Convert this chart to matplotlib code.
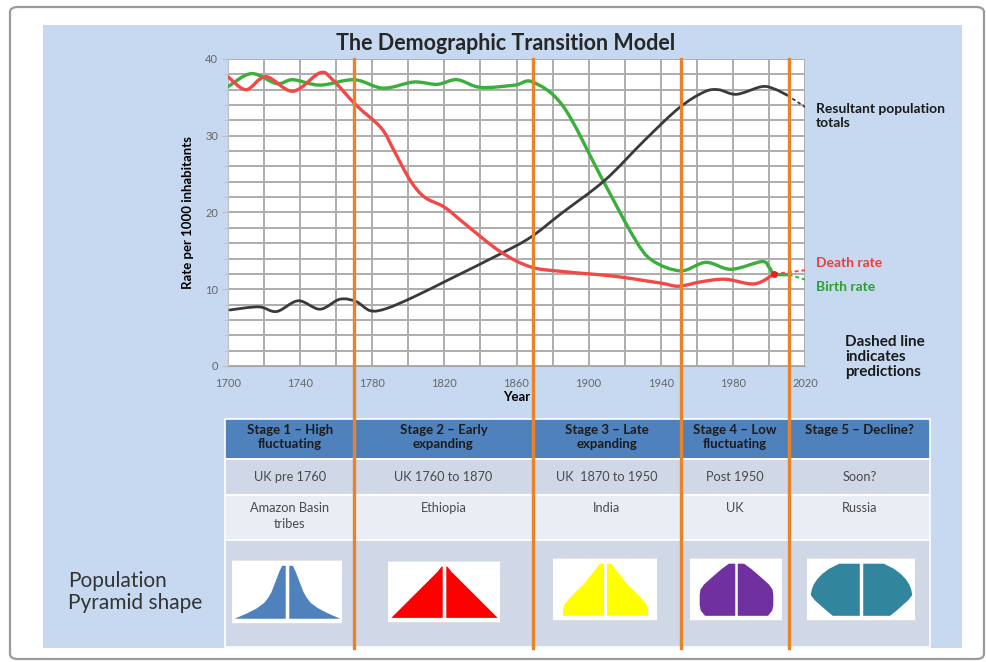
import numpy as np
import matplotlib
matplotlib.use("Agg")
import matplotlib.pyplot as plt
from matplotlib.path import Path
from matplotlib.patches import PathPatch, Rectangle, FancyBboxPatch
from matplotlib.lines import Line2D

plt.rcParams['font.family'] = ['Lato', 'DejaVu Sans']

# ---- chart data ----
birth_years = [1700, 1713, 1727, 1736, 1751, 1770, 1786, 1803, 1816, 1827, 1840, 1859, 1869,
               1886, 1907, 1925, 1935, 1951, 1965, 1979, 1996, 2000, 2003, 2011]
birth_rate = [36.4, 38.1, 36.8, 37.3, 36.6, 37.3, 36.2, 37.0, 36.7, 37.3, 36.3, 36.6, 37.0,
              33.8, 24.6, 16.8, 13.8, 12.4, 13.5, 12.6, 13.6, 12.9, 12.0, 11.9]
birth_pred_years = [2011, 2021]
birth_pred = [11.9, 11.2]

death_years = [1700, 1710, 1721, 1736, 1751, 1758, 1771, 1785, 1792, 1801, 1809, 1820, 1831,
               1851, 1868, 1886, 1914, 1940, 1950, 1963, 1976, 1992, 2003]
death_rate = [37.7, 36.0, 37.7, 35.8, 38.2, 37.3, 34.0, 31.0, 28.1, 24.2, 22.0, 20.7, 18.6,
              14.9, 12.9, 12.3, 11.7, 10.8, 10.4, 11.0, 11.3, 10.7, 12.0]
death_pred_years = [2003, 2021]
death_pred = [12.0, 12.5]

pop_years = [1701, 1717, 1727, 1739, 1751, 1762, 1771, 1779, 1788, 1803, 1822, 1851, 1868,
             1885, 1909, 1931, 1950, 1964, 1972, 1982, 1996, 2003, 2010]
pop_total = [7.3, 7.7, 7.1, 8.5, 7.4, 8.7, 8.4, 7.2, 7.5, 9.0, 11.2, 14.6, 16.8,
             19.9, 24.2, 29.4, 33.6, 35.7, 36.0, 35.4, 36.4, 36.1, 35.3]
pop_pred_years = [2010, 2021]
pop_pred = [35.3, 33.6]

stage_bounds = [1770, 1869, 1951, 2011]
year_ticks = [1700, 1740, 1780, 1820, 1860, 1900, 1940, 1980, 2020]
rate_ticks = [0, 10, 20, 30, 40]

stage_titles = ["Stage 1 \u2013 High\nfluctuating", "Stage 2 \u2013 Early\nexpanding",
                "Stage 3 \u2013 Late\nexpanding", "Stage 4 \u2013 Low\nfluctuating",
                "Stage 5 \u2013 Decline?"]
stage_periods = ["UK pre 1760", "UK 1760 to 1870", "UK  1870 to 1950", "Post 1950", "Soon?"]
stage_examples = ["Amazon Basin\ntribes", "Ethiopia", "India", "UK", "Russia"]

# pyramid half-widths per age band, bottom to top
age_bands = [0, 1, 2, 3, 4, 5, 6, 7, 8, 9, 10]
pyramid_widths = [
    [1.0, 0.76, 0.56, 0.42, 0.34, 0.28, 0.24, 0.2, 0.16, 0.12, 0.07],
    [1.0, 0.9, 0.8, 0.7, 0.6, 0.5, 0.4, 0.3, 0.2, 0.1, 0.02],
    [1.0, 1.0, 0.97, 0.88, 0.76, 0.64, 0.5, 0.4, 0.3, 0.2, 0.1],
    [0.85, 0.97, 1.0, 1.0, 1.0, 0.98, 0.88, 0.72, 0.55, 0.38, 0.18],
    [0.55, 0.68, 0.8, 0.92, 1.0, 0.98, 0.94, 0.87, 0.77, 0.63, 0.42],
]
pyramid_colors = ['#4f81bd', '#ff0000', '#ffff00', '#7030a0', '#31859c']

W, H = 986, 662
fig = plt.figure(figsize=(W / 100, H / 100), dpi=100)
fig.patch.set_facecolor('white')


def fx(px):
    return px / W


def fy(py):
    return 1 - py / H


def smooth(xs, ys):
    pts = np.column_stack([xs, ys]).astype(float)
    n = len(pts)
    verts = [pts[0]]
    codes = [Path.MOVETO]
    for i in range(n - 1):
        p0 = pts[max(i - 1, 0)]
        p1 = pts[i]
        p2 = pts[i + 1]
        p3 = pts[min(i + 2, n - 1)]
        verts += [p1 + (p2 - p0) / 6, p2 - (p3 - p1) / 6, p2]
        codes += [Path.CURVE4] * 3
    return Path(verts, codes)


# frame and blue slide panel
fig.add_artist(FancyBboxPatch((fx(10), fy(659)), fx(974), 652 / H,
                              boxstyle='round,pad=0,rounding_size=0.008',
                              transform=fig.transFigure, fc='white', ec='#9a9a9a',
                              lw=1.6, zorder=-3))
fig.add_artist(Rectangle((fx(43), fy(648)), fx(919), 623 / H, transform=fig.transFigure,
                         fc='#c6d9f1', ec='none', zorder=-2))

# ---- main chart ----
ax = fig.add_axes([fx(228), fy(366), fx(577), 307 / H])
ax.set_facecolor('white')
ax.set_xlim(1700, 2020)
ax.set_ylim(0, 40)
ax.set_xticks(year_ticks)
ax.set_xticks(range(1700, 2021, 20), minor=True)
ax.set_yticks(rate_ticks)
ax.set_yticks(range(0, 41, 2), minor=True)
ax.grid(which='both', color='#adadad', lw=1.4)
ax.set_axisbelow(True)
for s in ['top', 'right']:
    ax.spines[s].set_visible(False)
ax.spines['left'].set_color('#bfbfbf')
ax.spines['bottom'].set_color('#a6a6a6')
ax.tick_params(axis='x', which='both', length=0, labelsize=8, labelcolor='#666666', pad=9)
ax.tick_params(axis='y', which='major', length=4, color='#bfbfbf', labelsize=8,
               labelcolor='#666666', pad=3)
ax.tick_params(axis='y', which='minor', length=3, color='#bfbfbf')
ax.set_xlabel("Year", fontsize=9.5, fontweight='bold', labelpad=1)
ax.set_ylabel("Rate per 1000 inhabitants", fontsize=9.5, fontweight='bold', labelpad=8)

ax.add_patch(PathPatch(smooth(birth_years, birth_rate), fill=False, ec='#3cae3c', lw=2.4,
                       capstyle='round', zorder=3))
ax.add_patch(PathPatch(smooth(death_years, death_rate), fill=False, ec='#f24848', lw=2.4,
                       capstyle='round', zorder=4))
ax.add_patch(PathPatch(smooth(pop_years, pop_total), fill=False, ec='#3a3a3a', lw=2.0,
                       capstyle='round', zorder=3))
ax.plot(birth_pred_years, birth_pred, color='#3cae3c', lw=1.4, ls=(0, (2, 1.5)), zorder=3)
ax.plot(death_pred_years, death_pred, color='#f24848', lw=1.4, ls=(0, (2, 1.5)), zorder=4)
ax.plot(pop_pred_years, pop_pred, color='#3a3a3a', lw=1.3, ls=(0, (2, 1.5)), zorder=3)
ax.plot(death_years[-1], death_rate[-1], 'o', color='#e82020', ms=4, zorder=5)

fig.text(fx(506), fy(43), "The Demographic Transition Model", ha='center', va='center',
         fontsize=15.5, fontweight='bold', color='#262626')
fig.text(fx(816), fy(116), "Resultant population\ntotals", ha='left', va='center',
         fontsize=10, fontweight='bold', color='#1a1a1a', linespacing=1.25)
fig.text(fx(816), fy(263), "Death rate", ha='left', va='center', fontsize=10,
         fontweight='bold', color='#f03c3c')
fig.text(fx(816), fy(287), "Birth rate", ha='left', va='center', fontsize=10,
         fontweight='bold', color='#2f9e33')
fig.text(fx(845), fy(357), "Dashed line\nindicates\npredictions", ha='left', va='center',
         fontsize=11, fontweight='bold', color='#1a1a1a', linespacing=1.1)

# ---- stage table ----
to_fig = fig.transFigure.inverted()
bound_fx = [to_fig.transform(ax.transData.transform((yr, 0)))[0] for yr in stage_bounds]
col_edges = [fx(225)] + bound_fx + [fx(930)]
row_edges = [419, 459, 495, 540, 647]
row_colors = ['#4f81bd', '#d0d8e8', '#e9edf4', '#d0d8e8']

for r in range(4):
    fig.add_artist(Rectangle((col_edges[0], fy(row_edges[r + 1])), col_edges[-1] - col_edges[0],
                             (row_edges[r + 1] - row_edges[r]) / H, transform=fig.transFigure,
                             fc=row_colors[r], ec='white', lw=1.2, zorder=1))

for i in range(5):
    cx = (col_edges[i] + col_edges[i + 1]) / 2
    fig.text(cx, fy(424), stage_titles[i], ha='center', va='top', fontsize=9.5,
             fontweight='bold', color='#1c1c1c', linespacing=1.2, zorder=4)
    fig.text(cx, fy(477), stage_periods[i], ha='center', va='center', fontsize=9.2,
             color='#4a4a4a', zorder=4)
    fig.text(cx, fy(502), stage_examples[i], ha='center', va='top', fontsize=9.2,
             color='#4a4a4a', linespacing=1.45, zorder=4)

fig.text(fx(68), fy(592), "Population\nPyramid shape", ha='left', va='center', fontsize=15,
         color='#333333', linespacing=1.15)

# pyramid thumbnails: (left, top, right, bottom) in px, and share of box taken by the shape
boxes = [(232, 560, 342, 623), (388, 561, 500, 622), (553, 558, 657, 620),
         (690, 558, 782, 620), (807, 558, 915, 620)]
fills = [0.96, 0.95, 0.82, 0.8, 0.94]
for i in range(5):
    l, t, r, b = boxes[i]
    pax = fig.add_axes([fx(l), fy(b), fx(r - l), (b - t) / H], zorder=2)
    pax.set_facecolor('white')
    w = np.array(pyramid_widths[i])
    gap = 0.035
    pax.fill_betweenx(age_bands, -w - gap, -gap, color=pyramid_colors[i], lw=0)
    pax.fill_betweenx(age_bands, gap, w + gap, color=pyramid_colors[i], lw=0)
    lim = (1 + gap) / fills[i]
    pax.set_xlim(-lim, lim)
    pax.set_ylim(-0.9, 11.0)
    pax.set_xticks([])
    pax.set_yticks([])
    for s in ['left', 'right']:
        pax.spines[s].set_visible(False)
    for s in ['top', 'bottom']:
        pax.spines[s].set_color('#e0e0e0')
        pax.spines[s].set_linewidth(0.6)

# orange stage boundaries through chart and table
for bx in bound_fx:
    fig.add_artist(Line2D([bx, bx], [fy(59), fy(648)], transform=fig.transFigure,
                          color='#e8832a', lw=2.4, zorder=5))

fig.savefig("out.png", dpi=100, facecolor='white')
